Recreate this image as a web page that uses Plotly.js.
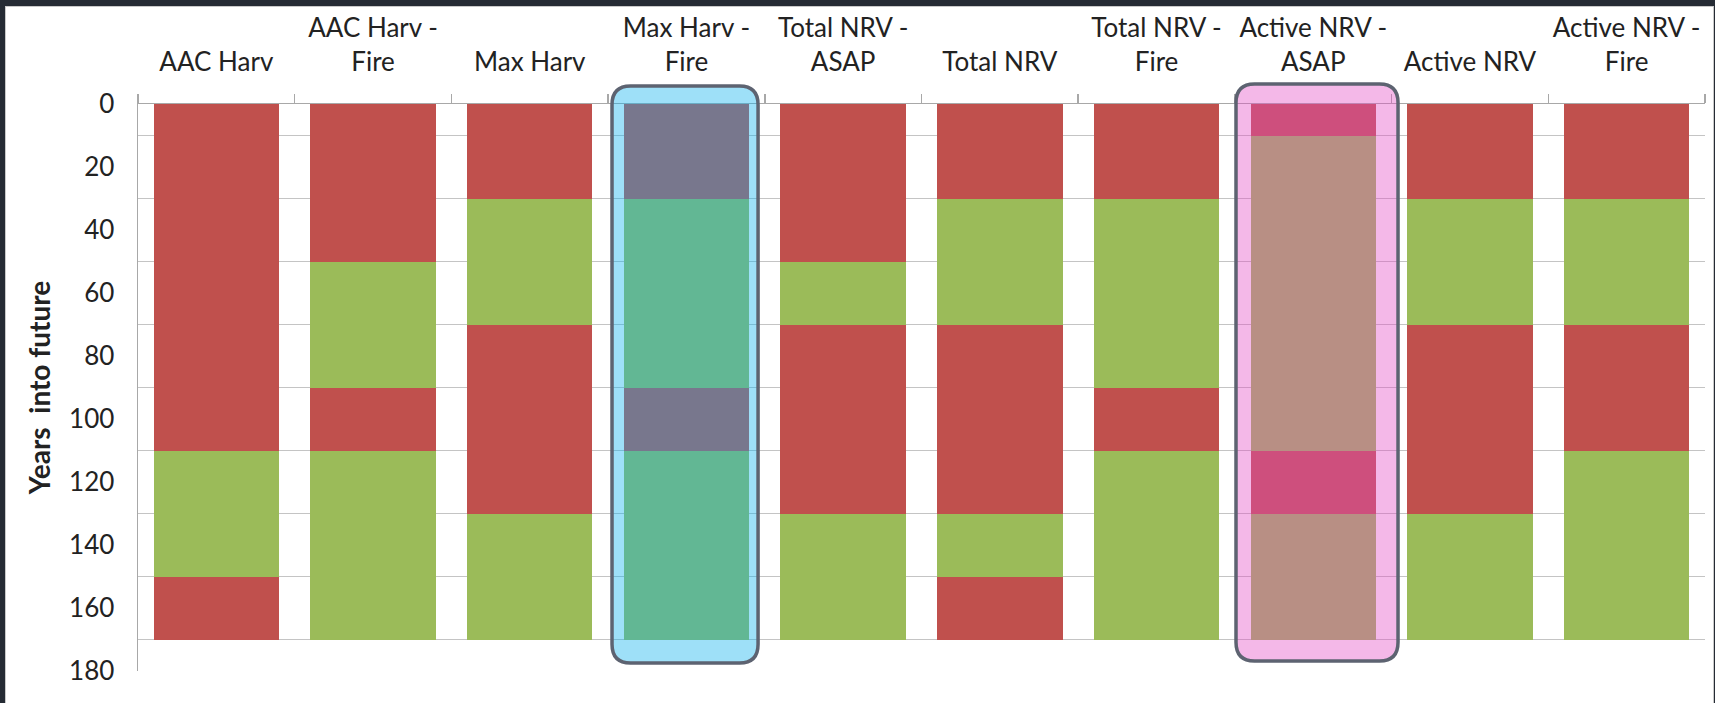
<!DOCTYPE html>
<html>
<head>
<meta charset="utf-8">
<script src="https://cdn.plot.ly/plotly-3.0.1.min.js"></script>
<style>
  html, body { margin: 0; padding: 0; width: 1715px; height: 703px; overflow: hidden; background: #252b34; }
  #frame { position: absolute; left: 5px; top: 6px; width: 1707px; height: 720px; background: #ffffff;
           border-left: 1px solid #c9c9c9; border-top: 1px solid #c9c9c9; border-right: 1px solid #c9c9c9; }
  #chart { position: absolute; left: 0; top: 0; width: 1715px; height: 703px; }
</style>
</head>
<body>
<div id="frame"></div>
<div id="chart"></div>
<script>
// ---- Data ----
const categories = [
  "AAC Harv", "AAC Harv -<br>Fire", "Max Harv", "Max Harv -<br>Fire", "Total NRV -<br>ASAP",
  "Total NRV", "Total NRV -<br>Fire", "Active NRV -<br>ASAP", "Active NRV", "Active NRV -<br>Fire"
];
// Segment lengths (years) for each scenario, top (year 0) to bottom (year 170)
const segAACHarv         = [110, 40, 20];
const segAACHarvFire     = [50, 40, 20, 60];
const segMaxHarv         = [30, 40, 60, 40];
const segMaxHarvFire     = [30, 60, 20, 60];
const segTotalNRVASAP    = [50, 20, 60, 40];
const segTotalNRV        = [30, 40, 60, 20, 20];
const segTotalNRVFire    = [30, 60, 20, 60];
const segActiveNRVASAP   = [10, 100, 20, 40];
const segActiveNRV       = [30, 40, 60, 40];
const segActiveNRVFire   = [30, 40, 40, 60];
// Status of each consecutive segment (same order in every bar)
const segmentStatus = ["red", "green", "red", "green", "red"];
const yTickValues = [0, 20, 40, 60, 80, 100, 120, 140, 160, 180];
const yGridValues = [10, 30, 50, 70, 90, 110, 130, 150, 170];

// ---- Styles ----
const statusColors = { red: "#C0504D", green: "#9BBB59" };
const textColor = "#222222";
const fontFamily = "Lato, 'Open Sans', sans-serif";

const segments = [segAACHarv, segAACHarvFire, segMaxHarv, segMaxHarvFire, segTotalNRVASAP,
                  segTotalNRV, segTotalNRVFire, segActiveNRVASAP, segActiveNRV, segActiveNRVFire];
const maxSegs = Math.max(...segments.map(s => s.length));

const traces = [];
for (let k = 0; k < maxSegs; k++) {
  traces.push({
    type: "bar",
    x: categories,
    y: segments.map(s => (k < s.length ? s[k] : 0)),
    marker: { color: segments.map(() => statusColors[segmentStatus[k]]), line: { width: 0 } },
    hoverinfo: "skip",
    showlegend: false
  });
}

function roundedRect(x0, x1, y0, y1, rx, ry) {
  return `M ${x0 + rx},${y1} L ${x1 - rx},${y1} Q ${x1},${y1} ${x1},${y1 - ry} ` +
         `L ${x1},${y0 + ry} Q ${x1},${y0} ${x1 - rx},${y0} L ${x0 + rx},${y0} ` +
         `Q ${x0},${y0} ${x0},${y0 + ry} L ${x0},${y1 - ry} Q ${x0},${y1} ${x0 + rx},${y1} Z`;
}
const rx = 0.0118, ry = 0.033;
const shapes = [
  { type: "path", xref: "paper", yref: "paper", layer: "above",
    path: roundedRect(0.3025, 0.3957, 0.0141, 1.0317, rx, ry),
    fillcolor: "rgba(12,177,237,0.4)", line: { color: "#5d6371", width: 3.5 } },
  { type: "path", xref: "paper", yref: "paper", layer: "above",
    path: roundedRect(0.7007, 0.8041, 0.0176, 1.0353, rx, ry),
    fillcolor: "rgba(227,78,197,0.4)", line: { color: "#5d6371", width: 3.5 } }
];

const layout = {
  width: 1715, height: 703,
  margin: { l: 138, r: 10, t: 104, b: 32, pad: 0 },
  paper_bgcolor: "rgba(0,0,0,0)",
  plot_bgcolor: "rgba(0,0,0,0)",
  barmode: "stack",
  bargap: 0.2,
  font: { family: fontFamily, size: 26, color: textColor },
  xaxis: {
    type: "category", side: "top", range: [-0.5, 9.5],
    showline: true, linecolor: "#a8a8a8", linewidth: 1.5,
    ticks: "outside", tickson: "boundaries", ticklen: 9, tickcolor: "#a8a8a8", tickwidth: 1.5,
    showgrid: false, zeroline: false, tickangle: 0,
    ticklabelstandoff: 21,
    tickfont: { family: fontFamily, size: 26, color: textColor },
    automargin: false
  },
  yaxis: {
    range: [180, 0], tickmode: "array", tickvals: yTickValues,
    showline: true, linecolor: "#a8a8a8", linewidth: 1.5,
    ticks: "", showgrid: false, zeroline: false,
    ticklabelstandoff: 17,
    tickfont: { family: fontFamily, size: 26, color: textColor },
    minor: { tickmode: "array", tickvals: yGridValues, showgrid: true, gridcolor: "#c4c4c4", gridwidth: 1.5, ticks: "" },
    title: { text: "Years\u00a0 into future", font: { family: fontFamily, size: 28, color: textColor, weight: "bold" }, standoff: 10 },
    automargin: false
  },
  shapes: shapes,
  showlegend: false
};

Plotly.newPlot("chart", traces, layout, { staticPlot: true, displayModeBar: false });
</script>
</body>
</html>
